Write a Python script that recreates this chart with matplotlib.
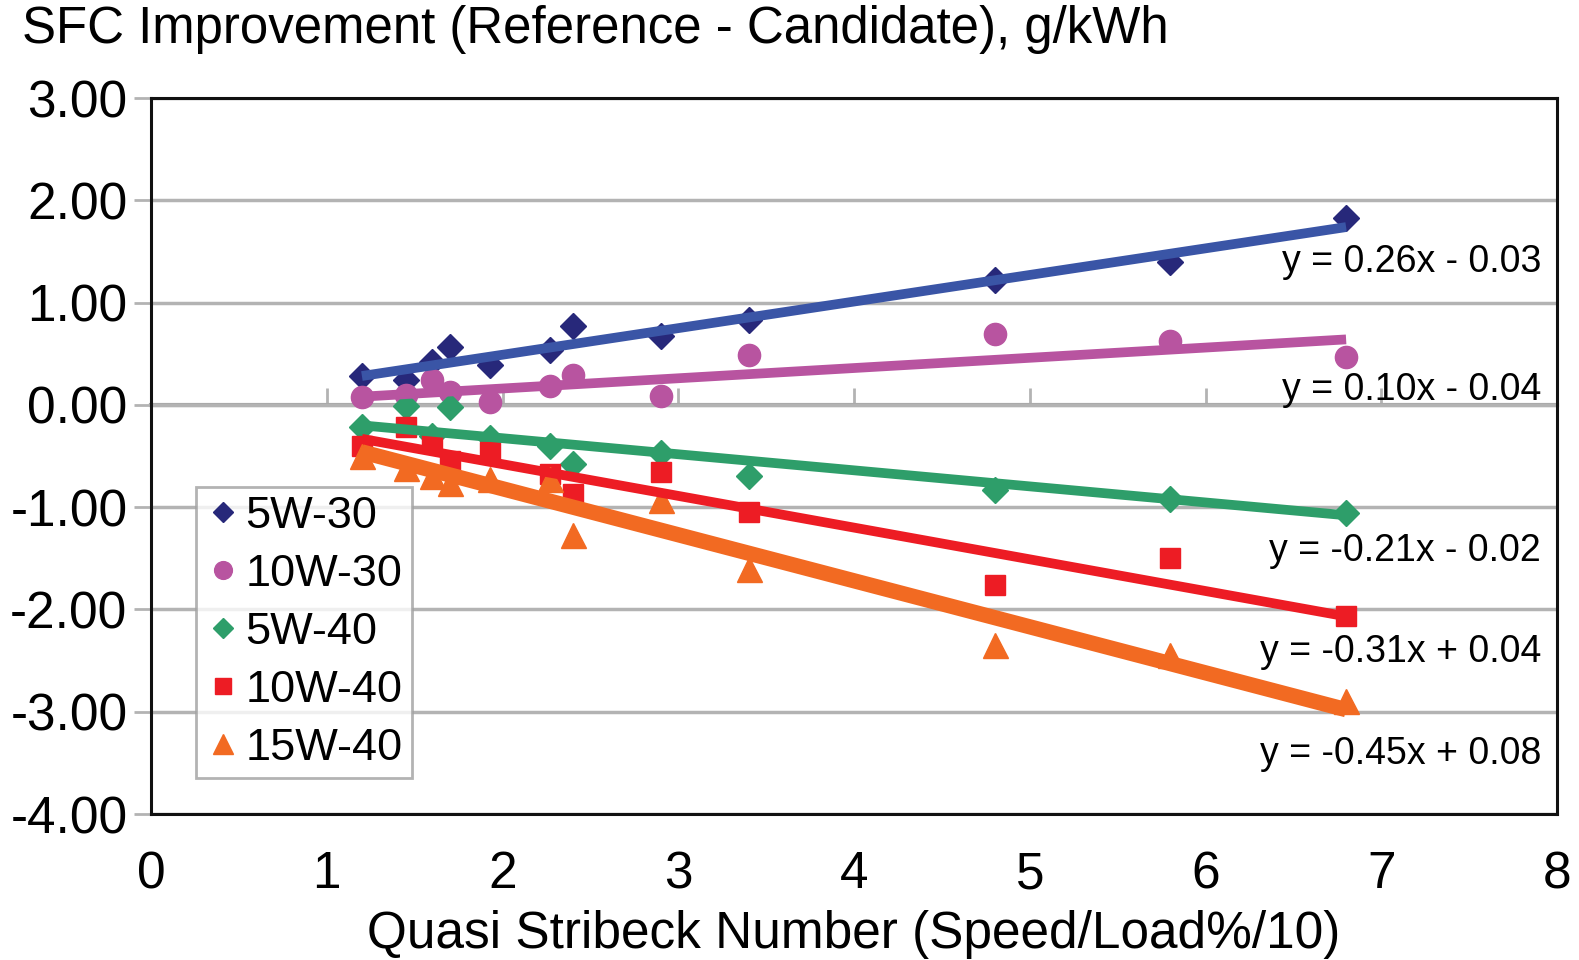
import matplotlib.pyplot as plt
import numpy as np

plt.rcParams['font.family'] = ['Liberation Sans', 'DejaVu Sans']

# Quasi Stribeck number for each test point
stribeck = [1.2, 1.45, 1.6, 1.7, 1.93, 2.27, 2.4, 2.9, 3.4, 4.8, 5.8, 6.8]

sfc_5w30 = [0.28, 0.24, 0.42, 0.57, 0.39, 0.54, 0.77, 0.67, 0.83, 1.22, 1.40, 1.83]
sfc_10w30 = [0.08, 0.10, 0.24, 0.13, 0.03, 0.18, 0.29, 0.09, 0.49, 0.69, 0.62, 0.47]
sfc_5w40 = [-0.22, -0.01, -0.30, -0.02, -0.32, -0.40, -0.58, -0.47, -0.70, -0.83, -0.92, -1.06]
sfc_10w40 = [-0.40, -0.22, -0.36, -0.55, -0.46, -0.68, -0.87, -0.66, -1.05, -1.76, -1.50, -2.06]
sfc_15w40 = [-0.50, -0.62, -0.70, -0.76, -0.72, -0.72, -1.27, -0.93, -1.60, -2.35, -2.45, -2.90]

oils = ['5W-30', '10W-30', '5W-40', '10W-40', '15W-40']
# trendline equations as printed on the chart
eq_labels = ['y = 0.26x - 0.03', 'y = 0.10x - 0.04', 'y = -0.21x - 0.02',
             'y = -0.31x + 0.04', 'y = -0.45x + 0.08']
label_y = [1.40, 0.15, -1.43, -2.42, -3.41]
# trendlines as drawn (the 5W-40 line is flatter than its printed label)
line_slopes = [0.26, 0.10, -0.157, -0.31, -0.45]
line_intercepts = [-0.03, -0.04, -0.012, 0.04, 0.08]

series = [sfc_5w30, sfc_10w30, sfc_5w40, sfc_10w40, sfc_15w40]
marker_colors = ['#27287a', '#b854a0', '#2e9e6a', '#ed1c24', '#f26a22']
line_colors = ['#3a55a6', '#b854a0', '#2e9e6a', '#ed1c24', '#f26a22']
markers = ['D', 'o', 'D', 's', '^']
msizes = [13, 16, 13, 14, 18]
lwidths = [7, 7, 7, 7, 11]

fig = plt.figure(figsize=(15.79, 9.6), dpi=100)
ax = fig.add_axes([151 / 1579, 1 - 814 / 960, 1406 / 1579, 716 / 960])

xs = np.array(stribeck)
for i, (ys, name) in enumerate(zip(series, oils)):
    ax.plot(xs, ys, linestyle='none', marker=markers[i], ms=msizes[i],
            color=marker_colors[i], mec=marker_colors[i], label=name, zorder=3)

xfit = np.array([min(stribeck), max(stribeck)])
for i in range(len(oils)):
    ax.plot(xfit, line_slopes[i] * xfit + line_intercepts[i], color=line_colors[i],
            lw=lwidths[i], solid_capstyle='butt', zorder=4 + i)
    ax.text(7.91, label_y[i], eq_labels[i], ha='right', va='center',
            fontsize=27, zorder=10)

ax.set_xlim(0, 8)
ax.set_ylim(-4, 3)
ax.set_xticks(range(0, 9))
ax.set_yticks(range(-4, 4))
ax.set_yticklabels([f'{v:.2f}' for v in range(-4, 4)])
ax.yaxis.grid(True, color='#b3b3b3', lw=2.5)
ax.set_axisbelow(True)
ax.tick_params(axis='y', direction='out', length=12, width=2, color='#b3b3b3',
               labelsize=37, pad=5)
ax.tick_params(axis='x', length=0, labelsize=37, pad=26)
for sp in ax.spines.values():
    sp.set_color('#111111')
    sp.set_linewidth(2.2)

# x axis crosses at y = 0, tick marks there
zero = ax.secondary_xaxis(4 / 7)
zero.set_xticks(range(0, 9))
zero.tick_params(direction='out', length=12, width=2, color='#b3b3b3',
                 labelbottom=False, labeltop=False)
for sp in zero.spines.values():
    sp.set_color('#a8a8a8')
    sp.set_linewidth(3)

ax.set_xlabel('Quasi Stribeck Number (Speed/Load%/10)', fontsize=37, labelpad=8)
fig.text(0.014, 1 - 29 / 960, 'SFC Improvement (Reference - Candidate), g/kWh',
         fontsize=36.7, va='center', ha='left')

leg = ax.legend(loc='lower left', bbox_to_anchor=(0.032, 0.05), borderaxespad=0,
                fontsize=32.5, frameon=True, fancybox=False, edgecolor='#a0a0a0',
                handletextpad=0.1, labelspacing=0.38, borderpad=0.2, markerscale=0.8,
                handlelength=0.8)
leg.get_frame().set_linewidth(2)
leg.set_zorder(20)

fig.savefig('out.png', dpi=100)
